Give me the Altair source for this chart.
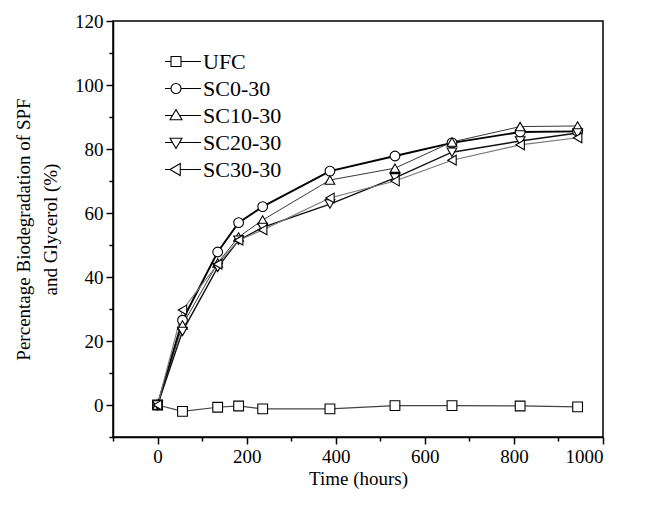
import altair as alt
import pandas as pd

# ---- data ----
hours = [0, 56, 135, 182, 236, 387, 533, 661, 814, 943]
series_names = ["UFC", "SC0-30", "SC10-30", "SC20-30", "SC30-30"]
ufc = [0, -2.0, -0.7, -0.3, -1.2, -1.2, -0.2, -0.2, -0.3, -0.6]
sc0_30 = [0, 26.5, 47.8, 57.0, 62.0, 73.1, 77.8, 81.9, 85.3, 85.5]
sc10_30 = [0, 25.0, 44.4, 52.5, 57.8, 70.3, 74.0, 82.2, 87.0, 87.2]
sc20_30 = [0, 23.0, 43.0, 51.5, 55.5, 62.8, 71.0, 79.0, 82.5, 85.0]
sc30_30 = [0, 29.7, 44.0, 51.5, 54.7, 64.7, 70.0, 76.5, 81.3, 83.5]

x_ticks = [-100, 0, 100, 200, 300, 400, 500, 600, 700, 800, 900, 1000]
y_ticks = [-10, 0, 10, 20, 30, 40, 50, 60, 70, 80, 90, 100, 110, 120]

values = [ufc, sc0_30, sc10_30, sc20_30, sc30_30]
rows = []
for name, vals in zip(series_names, values):
    for t, v in zip(hours, vals):
        rows.append({"t": t, "v": v, "series": name})
df = pd.DataFrame(rows)

# ---- styles ----
line_colors = ["#444444", "#000000", "#222222", "#111111", "#777777"]
line_widths = [1.2, 1.9, 0.9, 1.4, 1.1]
point_shapes = ["square", "circle", "triangle-up", "triangle-down", "triangle-left"]
legend_shapes = [
    "M-5,0H-1M1,0H5M-1,-1H1V1H-1Z",
    "M-5,0H-1M1,0H5M-1,0A1,1 0 1,0 1,0A1,1 0 1,0 -1,0Z",
    "M-5,0H-0.66M0.66,0H5M0,-1.2L1.2,0.85H-1.2Z",
    "M-5,0H-0.66M0.66,0H5M0,1.2L1.2,-0.85H-1.2Z",
    "M-5,0H-1.2M0.85,0H5M-1.2,0L0.85,-1.2V1.2Z",
]

FONT = "Liberation Serif"

x_enc = alt.X(
    "t:Q",
    scale=alt.Scale(domain=[-100, 1000], nice=False, zero=False),
    axis=alt.Axis(
        title="Time (hours)",
        values=x_ticks,
        tickCount=40,
        format="d",
        labelExpr="datum.value % 200 == 0 ? datum.label : ''",
        labelOverlap=False,
        tickSize={"condition": {"test": "datum.value % 200 == 0", "value": 7}, "value": 4},
        labelPadding=3,
        titlePadding=3,
    ),
)
y_enc = alt.Y(
    "v:Q",
    scale=alt.Scale(domain=[-10, 120], nice=False, zero=False),
    axis=alt.Axis(
        title=["Percentage Biodegradation of SPF", "and Glycerol (%)"],
        values=y_ticks,
        tickCount=40,
        format="d",
        labelExpr="datum.value % 20 == 0 ? datum.label : ''",
        labelOverlap=False,
        tickSize={"condition": {"test": "datum.value % 20 == 0", "value": 7}, "value": 4},
        labelPadding=3,
        titlePadding=14,
        titleLineHeight=27,
    ),
)

base = alt.Chart(df)

lines = base.mark_line().encode(
    x=x_enc,
    y=y_enc,
    detail="series:N",
    stroke=alt.Stroke("series:N", scale=alt.Scale(domain=series_names, range=line_colors), legend=None),
    strokeWidth=alt.StrokeWidth(
        "series:N",
        scale=alt.Scale(type="ordinal", domain=series_names, range=line_widths),
        legend=None,
    ),
)

points = base.mark_point(filled=False, fill="white", stroke="black", strokeWidth=1.1, size=95, opacity=1).encode(
    x="t:Q",
    y="v:Q",
    shape=alt.Shape("series:N", scale=alt.Scale(domain=series_names, range=point_shapes), legend=None),
)

legend_layer = base.mark_point(filled=False, opacity=0, size=100).encode(
    x="t:Q",
    y="v:Q",
    shape=alt.Shape(
        "series:N",
        scale=alt.Scale(domain=series_names, range=legend_shapes),
        legend=alt.Legend(
            title=None,
            orient="none",
            legendX=52,
            legendY=27,
            symbolSize=100,
            symbolOpacity=1,
            symbolFillColor="white",
            symbolStrokeColor="black",
            symbolStrokeWidth=1.1,
            labelFont=FONT,
            labelFontSize=22,
            labelOffset=16,
            clipHeight=27,
            rowPadding=0,
            labelColor="black",
        ),
    ),
)

chart = (
    alt.layer(lines, points, legend_layer)
    .resolve_scale(shape="independent")
    .properties(
        width=490,
        height=416,
        autosize=alt.AutoSizeParams(type="none"),
        padding={"left": 105, "top": 13, "right": 40, "bottom": 60},
    )
    .configure_view(stroke="black", strokeWidth=1.5)
    .configure_axis(
        grid=False,
        domainColor="black",
        domainWidth=1.5,
        tickColor="black",
        tickWidth=1.5,
        labelFont=FONT,
        labelFontSize=19,
        labelColor="black",
        titleFont=FONT,
        titleFontSize=19,
        titleFontWeight="normal",
        titleColor="black",
    )
)

chart.save("out.html", embed_options={"renderer": "svg", "actions": False})
